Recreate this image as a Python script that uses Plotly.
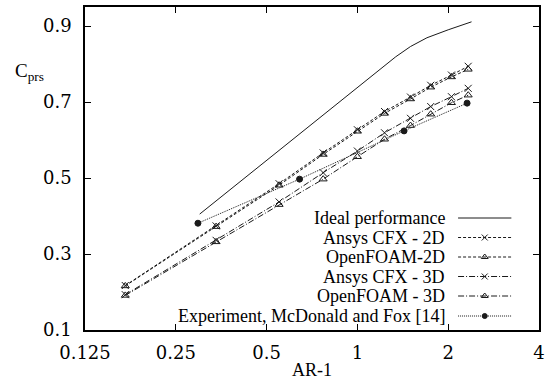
import plotly.graph_objects as go

# ---------------- data ----------------
x_cfd = [0.17, 0.34, 0.55, 0.77, 1.0, 1.23, 1.5, 1.75, 2.05, 2.33]
cfx_2d = [0.217, 0.374, 0.485, 0.566, 0.627, 0.675, 0.713, 0.744, 0.771, 0.794]
of_2d = [0.216, 0.372, 0.481, 0.562, 0.623, 0.670, 0.708, 0.739, 0.766, 0.786]
cfx_3d = [0.193, 0.336, 0.437, 0.514, 0.571, 0.619, 0.657, 0.688, 0.714, 0.736]
of_3d = [0.191, 0.332, 0.430, 0.497, 0.556, 0.602, 0.638, 0.668, 0.698, 0.718]
exp_x = [0.296, 0.643, 1.428, 2.31]
exp_y = [0.381, 0.497, 0.624, 0.697]
ideal_x = [0.30, 1.34, 1.5, 1.7, 2.0, 2.39]
ideal_y = [0.405, 0.819, 0.846, 0.869, 0.890, 0.911]

x_ticks = [0.125, 0.25, 0.5, 1, 2, 4]
x_ticktext = ["0.125", "0.25", "0.5", "1", "2", "4"]
y_ticks = [0.1, 0.3, 0.5, 0.7, 0.9]
y_ticktext = ["0.1", "0.3", "0.5", "0.7", "0.9"]

names = ["Ideal performance", "Ansys CFX - 2D", "OpenFOAM-2D",
         "Ansys CFX - 3D", "OpenFOAM - 3D", "Experiment, McDonald and Fox [14]"]

FONT = "DejaVu Serif"
FONT_LEG = "serif"
FONT_TITLE = "Liberation Serif"
INK = "#1a1a1a"

styles = [
    dict(dash="solid", symbol=None),
    dict(dash="3px,2px", symbol="x-thin-open"),
    dict(dash="3px,2px", symbol="triangle-up-open"),
    dict(dash="6px,2px,1px,2px", symbol="x-thin-open"),
    dict(dash="6px,2px,1px,2px", symbol="triangle-up-open"),
    dict(dash="1px,1px", symbol="circle"),
]
series = [
    (ideal_x, ideal_y),
    (x_cfd, cfx_2d),
    (x_cfd, of_2d),
    (x_cfd, cfx_3d),
    (x_cfd, of_3d),
    (exp_x, exp_y),
]

fig = go.Figure()
for (xs, ys), st, nm in zip(series, styles, names):
    mode = "lines" if st["symbol"] is None else "lines+markers"
    marker = None
    if st["symbol"] is not None:
        marker = dict(symbol=st["symbol"], size=7 if st["symbol"] != "circle" else 6,
                      color=INK, line=dict(color=INK, width=1))
    fig.add_trace(go.Scatter(x=xs, y=ys, mode=mode, name=nm,
                             line=dict(color=INK, width=1, dash=st["dash"]),
                             marker=marker, showlegend=False))

# ---------------- custom legend (text right, sample on right) ----------------
W_PLOT, H_PLOT = 460, 323
row_y = [112, 92.5, 73, 53.5, 34, 14]
text_right = 367
samp_x0, samp_x1 = 378, 432
for i, (st, nm) in enumerate(zip(styles, names)):
    yy = row_y[i]
    fig.add_trace(go.Scatter(x=[samp_x0, samp_x1], y=[yy, yy], mode="lines",
                             xaxis="x2", yaxis="y2", showlegend=False, hoverinfo="skip",
                             line=dict(color=INK, width=1, dash=st["dash"])))
    if st["symbol"] is not None:
        fig.add_trace(go.Scatter(x=[(samp_x0 + samp_x1) / 2], y=[yy], mode="markers",
                                 xaxis="x2", yaxis="y2", showlegend=False, hoverinfo="skip",
                                 marker=dict(symbol=st["symbol"],
                                             size=6 if st["symbol"] != "circle" else 5,
                                             color=INK, line=dict(color=INK, width=1))))
    fig.add_annotation(x=text_right, y=yy, xref="x2", yref="y2", text=nm,
                       xanchor="right", yanchor="middle", showarrow=False,
                       font=dict(family=FONT_LEG, size=18, color="black"))

fig.add_annotation(x=-0.158, y=0.80, xref="paper", yref="paper",
                   text="C<sub>prs</sub>", xanchor="left", yanchor="middle",
                   showarrow=False, font=dict(family=FONT_TITLE, size=19, color="black"))
fig.add_annotation(x=0.5, y=-0.124, xref="paper", yref="paper",
                   text="AR-1", xanchor="center", yanchor="middle",
                   showarrow=False, font=dict(family=FONT_TITLE, size=18, color="black"))

axis_common = dict(showline=True, linecolor="black", linewidth=1.5, mirror="ticks",
                   ticks="inside", ticklen=6, tickcolor="black", tickwidth=1,
                   showgrid=False, zeroline=False,
                   tickfont=dict(family=FONT, size=18, color="black"))

fig.update_layout(
    width=550, height=389,
    margin=dict(l=85, r=5, t=7, b=59),
    paper_bgcolor="white", plot_bgcolor="white",
    showlegend=False,
    xaxis=dict(type="log", range=[-0.90309, 0.60206], tickvals=x_ticks,
               ticktext=x_ticktext, ticklabelstandoff=6, **axis_common),
    yaxis=dict(range=[0.1, 0.95], tickvals=y_ticks, ticktext=y_ticktext,
               ticklabelstandoff=8, **axis_common),
    xaxis2=dict(overlaying="x", range=[0, W_PLOT], visible=False, fixedrange=True),
    yaxis2=dict(overlaying="y", range=[0, H_PLOT], visible=False, fixedrange=True),
)

fig.write_html("out.html")
